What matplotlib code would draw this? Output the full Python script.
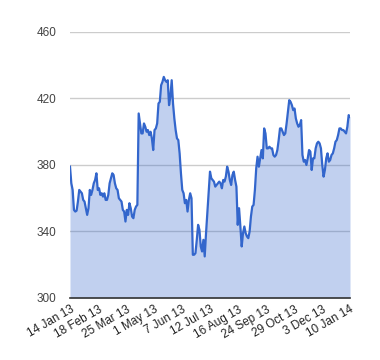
import numpy as np
import matplotlib
matplotlib.use('Agg')
import matplotlib.pyplot as plt

plt.rcParams['font.family'] = ['Liberation Sans', 'DejaVu Sans']

# Valores (aprox. un dia bursatil por valor)
valores = [
    379, 369, 365, 353, 352, 352.5, 358, 365, 364, 363, 359, 358, 354, 350, 354,
    365, 362, 365, 369, 371, 375, 365, 366, 362, 363, 361, 363, 359, 359, 362,
    369, 372, 375, 374, 369, 366, 365, 360, 359, 358, 353, 352, 346, 353, 350,
    357, 354, 349, 348, 353, 355, 356, 411, 405, 399, 399, 405, 403, 400, 401,
    398, 400, 396, 389, 401, 402, 405, 417, 418, 428, 430, 433, 431, 430, 431,
    416, 421, 431, 417, 408, 401, 396, 395, 387, 375, 365, 363, 357, 359, 352,
    359, 363, 360, 326, 326, 327, 335, 344, 341, 331, 328, 335, 325, 339, 351,
    363, 376, 372, 371, 370, 367, 368, 369, 370, 369, 366, 371, 370, 373, 379,
    376, 371, 368, 374, 376, 371, 367, 344, 354, 343, 331, 339, 343, 339, 337,
    336, 340, 349, 355, 356, 365, 378, 385, 379, 384, 389, 384, 402, 399, 390,
    390, 391, 390, 390, 386, 385, 386, 389, 395, 402, 402, 400, 398, 399, 405,
    412, 419, 418, 416, 413, 414, 408, 405, 403, 404, 407, 386, 382, 383, 380,
    384, 389, 388, 377, 384, 384, 390, 393, 394, 393, 390, 380, 373, 377, 384,
    387, 382, 383, 386, 387, 390, 394, 395, 398, 402, 402, 401, 401, 400, 399,
    403, 410, 409,
]

etiquetas = ['14 Jan 13', '18 Feb 13', '25 Mar 13', '1 May 13', '7 Jun 13',
             '12 Jul 13', '16 Aug 13', '24 Sep 13', '29 Oct 13', '3 Dec 13',
             '10 Jan 14']
yticks = [300, 340, 380, 420, 460]

n_dias = 240
x = np.linspace(0, n_dias, len(valores))
xticks = np.linspace(0, n_dias, len(etiquetas))

fig = plt.figure(figsize=(3.8, 3.6), dpi=100)
ax = fig.add_axes([70 / 380, 1 - 298 / 360, 280 / 380, 266 / 360])

azul = '#3366cc'
ax.fill_between(x, 300, valores, color=azul, alpha=0.3, linewidth=0, zorder=2)
ax.plot(x, valores, color=azul, linewidth=1.6, zorder=3)

ax.set_xlim(0, n_dias)
ax.set_ylim(300, 460)
ax.set_yticks(yticks)
ax.set_yticklabels([str(v) for v in yticks], fontsize=8.5, color='#444444')
ax.set_xticks(xticks)
ax.set_xticklabels(etiquetas, rotation=30, ha='right', rotation_mode='anchor',
                   fontsize=8.5, color='#222222')

ax.grid(axis='y', color='#cccccc', linewidth=1, zorder=1)
ax.set_axisbelow(True)
ax.tick_params(length=0, pad=4)
ax.tick_params(axis='y', pad=10)
for s in ['left', 'right', 'top']:
    ax.spines[s].set_visible(False)
ax.spines['bottom'].set_color('#333333')
ax.spines['bottom'].set_linewidth(1.2)
ax.spines['bottom'].set_zorder(4)

fig.savefig('out.png', dpi=100)
